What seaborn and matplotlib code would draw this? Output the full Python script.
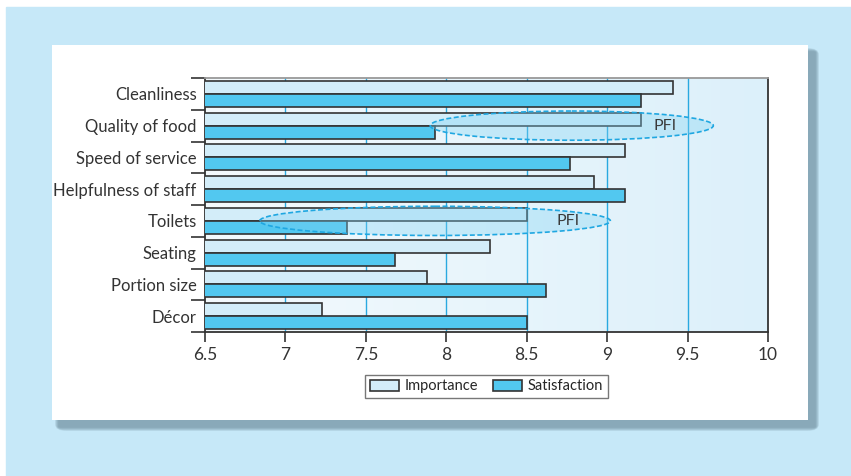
import matplotlib.pyplot as plt
import numpy as np
import pandas as pd
import seaborn as sns
from matplotlib.colors import LinearSegmentedColormap
from matplotlib.patches import Ellipse, FancyBboxPatch, Rectangle

categories = ["Cleanliness", "Quality of food", "Speed of service", "Helpfulness of staff",
              "Toilets", "Seating", "Portion size", "Décor"]
importance = [9.41, 9.21, 9.11, 8.92, 8.50, 8.27, 7.88, 7.23]
satisfaction = [9.21, 7.93, 8.77, 9.11, 7.38, 7.68, 8.62, 8.50]
x_ticks = [6.5, 7, 7.5, 8, 8.5, 9, 9.5, 10]
x_labels = ["6.5", "7", "7.5", "8", "8.5", "9", "9.5", "10"]
pfi_rows = ["Quality of food", "Toilets"]

df = pd.DataFrame({
    "factor": categories * 2,
    "score": importance + satisfaction,
    "measure": ["Importance"] * len(categories) + ["Satisfaction"] * len(categories),
})

sns.set_style("white")
plt.rcParams["font.family"] = ["Lato", "DejaVu Sans"]

fig = plt.figure(figsize=(8.51, 4.76), dpi=100)
W, H = 851, 476

# page background and white card with soft shadow
fig.patches.append(Rectangle((6 / W, 0), 1, 1 - 7 / H, transform=fig.transFigure,
                             color="#c6e8f8", zorder=-10))
for i in range(8):
    grow = 8 - i
    fig.patches.append(FancyBboxPatch(((59 - grow * 0.5) / W, (49 - grow * 0.5) / H),
                                      (756 + grow) / W, (375 + grow) / H,
                                      boxstyle=f"round,pad=0,rounding_size={grow / W * 1.5}",
                                      transform=fig.transFigure, color="#6f8e9d",
                                      alpha=0.13, zorder=-9, lw=0))
fig.patches.append(Rectangle((52 / W, 56 / H), 756 / W, 375 / H, transform=fig.transFigure,
                             color="white", zorder=-8, lw=0))

ax = fig.add_axes([205 / W, 144 / H, 563 / W, 254 / H])

# gradient background of the plotting area
grad = np.linspace(0, 1, 256).reshape(1, -1)
ax.imshow(grad, extent=[6.5, 10, 7.5, -0.5], aspect="auto", zorder=0,
          cmap=LinearSegmentedColormap.from_list("bg", ["#f4fafd", "#dcf0fa"]))

sns.barplot(data=df, y="factor", x="score", hue="measure", orient="h", ax=ax,
            palette={"Importance": "#d3edf9", "Satisfaction": "#52c8f0"},
            edgecolor="#333333", linewidth=1.2, width=0.82, saturation=1, zorder=3)

for v in x_ticks[1:-1]:
    ax.axvline(v, color="#29a9e0", lw=1, zorder=1)

# PFI ellipses
pfi_spans = {"Quality of food": (7.90, 9.66), "Toilets": (6.84, 9.02)}
pfi_text_x = {"Quality of food": 9.36, "Toilets": 8.76}
for row in pfi_rows:
    yi = categories.index(row)
    x0, x1 = pfi_spans[row]
    ax.add_patch(Ellipse(((x0 + x1) / 2, yi), x1 - x0, 0.92, facecolor="#7fd3f4",
                         alpha=0.35, edgecolor="none", zorder=4))
    ax.add_patch(Ellipse(((x0 + x1) / 2, yi), x1 - x0, 0.92, facecolor="none",
                         edgecolor="#1fa7e1", lw=1.2, ls=(0, (3, 1.5)), zorder=5))
    ax.text(pfi_text_x[row], yi, "PFI", ha="center", va="center", fontsize=11.5,
            color="#3a3a3a", zorder=6)

ax.set_xlim(6.5, 10)
ax.set_ylim(7.5, -0.5)
ax.set_xticks(x_ticks)
ax.set_xticklabels(x_labels)
ax.set_yticks(range(len(categories)))
ax.set_yticklabels(categories)
ax.set_yticks(np.arange(-0.5, len(categories), 1), minor=True)
ax.tick_params(axis="y", which="major", length=0, pad=6, labelsize=12, colors="#333333")
ax.tick_params(axis="y", which="minor", length=10, width=1.2, color="#333333", direction="out", left=True)
ax.tick_params(axis="x", length=7, width=1.2, color="#333333", labelsize=12.5, bottom=True,
               labelcolor="#333333")
ax.set_xlabel("")
ax.set_ylabel("")
for side, sp in ax.spines.items():
    sp.set_color("#333333" if side in ("left", "bottom", "right") else "#999999")
    sp.set_linewidth(1.3)

ax.legend(loc="upper center", bbox_to_anchor=(0.50, -0.14), ncol=2, frameon=True,
          fancybox=False, edgecolor="#555555", fontsize=10.5, handlelength=2.0,
          handleheight=0.8, handletextpad=0.4, columnspacing=1.0, borderpad=0.3)

fig.savefig("out.png", dpi=100)
